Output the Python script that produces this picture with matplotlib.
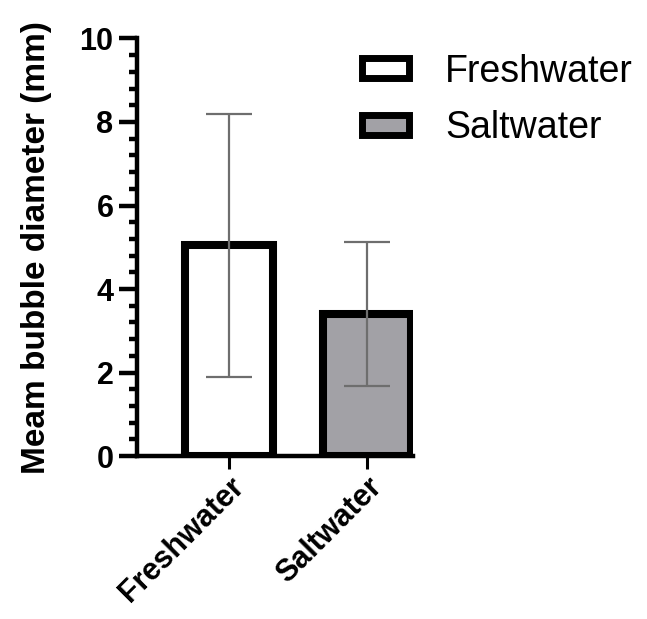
import matplotlib.pyplot as plt
from matplotlib.patches import Patch
from matplotlib.ticker import MultipleLocator

groups = ["Freshwater", "Saltwater"]
means = [5.05, 3.4]
errors = [3.15, 1.72]
fills = ["white", "#a2a1a6"]

plt.rcParams['font.family'] = ['Liberation Sans', 'DejaVu Sans']

fig = plt.figure(figsize=(6.47, 6.19), dpi=100)
ax = fig.add_axes([0.212, 0.263, 0.427, 0.675])

x = range(len(groups))
ax.bar(x, means, width=0.64, color=fills, edgecolor="black", linewidth=5.8, zorder=2)
ax.errorbar(x, means, yerr=errors, fmt="none", ecolor="#6e6e6e",
            elinewidth=1.6, capsize=16.5, capthick=1.6, zorder=3)

ax.set_xlim(-0.67, 1.34)
ax.set_ylim(0, 10)
ax.yaxis.set_major_locator(MultipleLocator(2))
ax.yaxis.set_minor_locator(MultipleLocator(0.4))

for side in ["top", "right"]:
    ax.spines[side].set_visible(False)
for side in ["left", "bottom"]:
    ax.spines[side].set_linewidth(3.2)

ax.tick_params(axis="y", which="major", length=13, width=3.2, labelsize=22, pad=4)
ax.tick_params(axis="y", which="minor", length=6, width=3.2)
ax.tick_params(axis="x", which="major", length=9, width=2.2, pad=2)

ax.set_xticks(list(x))
ax.set_xticklabels(groups, rotation=45, ha="right", rotation_mode="anchor",
                   fontsize=22, fontweight="bold")
for lbl in ax.get_yticklabels():
    lbl.set_fontweight("bold")

ax.set_ylabel("Meam bubble diameter (mm)", fontsize=24, fontweight="bold", labelpad=20)

handles = [Patch(facecolor=c, edgecolor="black", linewidth=5, label=g)
           for g, c in zip(groups, fills)]
fig.legend(handles=handles, loc="upper left", bbox_to_anchor=(0.508, 0.968),
           frameon=False, fontsize=27, handlelength=1.25, handleheight=0.43,
           handletextpad=0.95, labelspacing=0.55)

fig.savefig("out.png", dpi=100)
